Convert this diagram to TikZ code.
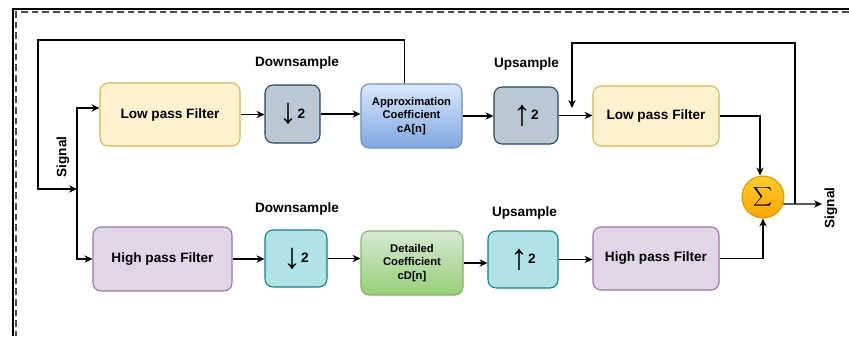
\documentclass[tikz,border=0pt]{standalone}
\usepackage{fontspec}
\setmainfont{Liberation Sans}
\usetikzlibrary{arrows.meta}
\definecolor{lpfill}{HTML}{FFF2CC}
\definecolor{lpdraw}{HTML}{D6B656}
\definecolor{hpfill}{HTML}{E1D5E7}
\definecolor{hpdraw}{HTML}{9673A6}
\definecolor{grfill}{HTML}{BAC8D3}
\definecolor{grdraw}{HTML}{23445D}
\definecolor{tlfill}{HTML}{B0E3E6}
\definecolor{tldraw}{HTML}{0E8088}
\definecolor{catop}{HTML}{DAE8FC}
\definecolor{cabot}{HTML}{7EA6E0}
\definecolor{cadraw}{HTML}{6C8EBF}
\definecolor{cdtop}{HTML}{D5E8D4}
\definecolor{cdbot}{HTML}{97D077}
\definecolor{cddraw}{HTML}{82B366}
\definecolor{sumtop}{HTML}{FFCD28}
\definecolor{sumbot}{HTML}{FFA500}
\definecolor{sumdraw}{HTML}{D79B00}
\newcommand{\dnarr}{{\fontsize{27}{27}\selectfont ↓}\raisebox{4pt}{2}}
\newcommand{\uparr}{{\fontsize{27}{27}\selectfont ↑}\raisebox{4pt}{2}}
\begin{document}
\begin{tikzpicture}[x=0.75pt,y=-0.75pt,
  >={Stealth[length=6pt,width=5.5pt]},
  blk/.style={draw, rounded corners=6pt, line width=0.8pt, align=center, inner sep=0pt, font=\bfseries\fontsize{10.2}{12}\selectfont},
  coef/.style={blk, font=\bfseries\fontsize{8.4}{10.2}\selectfont},
  lbl/.style={font=\bfseries\fontsize{10.2}{12}\selectfont},
  wire/.style={line width=0.9pt}]
\useasboundingbox (0,0) rectangle (849,336);
\draw[line width=2pt] (849,9) -| (13,336);
\draw[line width=1.2pt, dash pattern=on 5pt off 3pt, black!70] (849,12) -| (16,336);
\node[blk, fill=lpfill, draw=lpdraw, minimum width=105pt, minimum height=47.25pt] (lpf1) at (170,114.5) {Low pass Filter};
\node[blk, fill=grfill, draw=grdraw, minimum width=41.25pt, minimum height=43.5pt] (dn1) at (292.5,114) {\dnarr};
\node[coef, top color=catop, bottom color=cabot, draw=cadraw, minimum width=75.75pt, minimum height=48pt] (ca) at (411.5,116) {Approximation\\Coefficient\\cA[n]};
\node[blk, fill=grfill, draw=grdraw, minimum width=48pt, minimum height=42.75pt] (up1) at (526,115.5) {\uparr};
\node[blk, fill=lpfill, draw=lpdraw, minimum width=94.5pt, minimum height=45pt] (lpf2) at (656,116) {Low pass Filter};
\node[blk, fill=hpfill, draw=hpdraw, minimum width=104.25pt, minimum height=48pt] (hpf1) at (162.5,259) {High pass Filter};
\node[blk, fill=tlfill, draw=tldraw, minimum width=46.5pt, minimum height=42.75pt] (dn2) at (296,258.5) {\dnarr};
\node[coef, top color=cdtop, bottom color=cdbot, draw=cddraw, minimum width=76.5pt, minimum height=48pt] (cd) at (412,263) {Detailed\\Coefficient\\cD[n]};
\node[blk, fill=tlfill, draw=tldraw, minimum width=52.5pt, minimum height=42.75pt] (up2) at (523,259.5) {\uparr};
\node[blk, fill=hpfill, draw=hpdraw, minimum width=94.5pt, minimum height=47.25pt] (hpf2) at (656,258.5) {High pass Filter};
\node[circle, draw=sumdraw, top color=sumtop, bottom color=sumbot, line width=0.8pt, minimum size=31.5pt, inner sep=0pt] (sum) at (763,197) {$\displaystyle\sum$};
\node[lbl] (ds1) at (297,63) {Downsample};
\node[lbl] (us1) at (526.5,64) {Upsample};
\node[lbl] (ds2) at (297,209) {Downsample};
\node[lbl] (us2) at (524.5,213) {Upsample};
\node[lbl, rotate=90] (sigin) at (63,157) {Signal};
\node[lbl, rotate=90] (sigout) at (831,208) {Signal};
\coordinate (fb1) at (38,40);
\coordinate (in) at (38,189);
\coordinate (jn) at (77,189);
\coordinate (tap) at (795,204);
\coordinate (fb2) at (795,43);
\coordinate (fbend) at (572,108);
\coordinate (out) at (822,204);
\draw[wire,->] ([xshift=-5pt]ca.north) |- (fb1) -- (in) -- (jn);
\draw[wire,->] (jn) |- ([yshift=4.9pt]lpf1.west);
\draw[wire,->] (jn) |- (hpf1.west);
\draw[wire,->] (lpf1) -- (lpf1 -| dn1.west);
\draw[wire,->] (dn1) -- (dn1 -| ca.west);
\draw[wire,->] (ca) -- (ca -| up1.west);
\draw[wire,->] (up1) -- (up1 -| lpf2.west);
\draw[wire,->] (hpf1) -- (hpf1 -| dn2.west);
\draw[wire,->] (dn2) -- (dn2 -| cd.west);
\draw[wire,->] (cd) -- (cd -| up2.west);
\draw[wire,->] (up2) -- (up2 -| hpf2.west);
\draw[wire,->] (lpf2) -| ([xshift=-2.25pt]sum.north);
\draw[wire,->] (hpf2) -| (sum.south);
\draw[wire,->] (sum.-19) -- (out);
\draw[wire,->] (tap) -- (fb2) -| (fbend);
\end{tikzpicture}
\end{document}
